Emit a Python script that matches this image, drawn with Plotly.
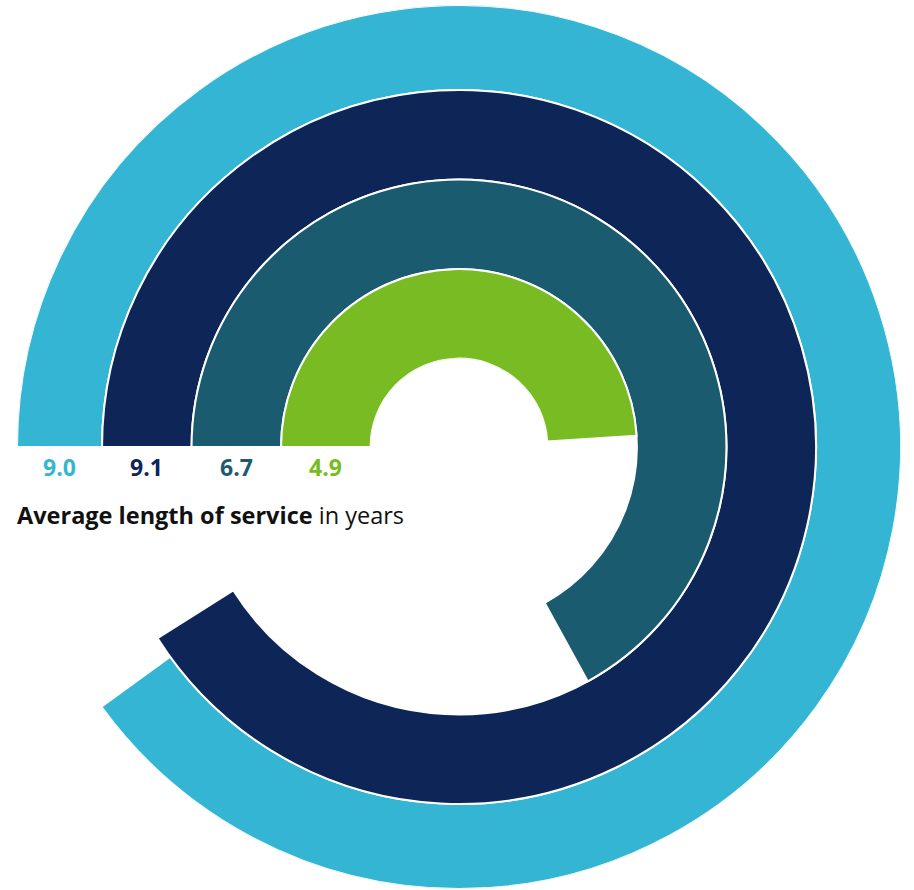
import plotly.graph_objects as go

# Data
categories = ["Group A", "Group B", "Group C", "Group D"]  # outer -> inner
values = [9.0, 9.1, 6.7, 4.9]
colors = ["#35B5D4", "#0D2557", "#1B5B70", "#78BB22"]
scale_max = 10.0  # full circle = 10 years
title_bold = "Average length of service"
title_rest = " in years"

W, H = 914, 890
cx, cy = 459, 447          # centre in px (from top)
R = 442                    # outer radius in px
hole = 0.2
rad_max = 3.95
ring_widths = [0.95, 1, 1, 1]   # outer -> inner
ring_bases = [3, 2, 1, 0]

deg = [v / scale_max * 360 for v in values]

fig = go.Figure()
fig.add_trace(go.Barpolar(
    r=ring_widths,
    base=ring_bases,
    theta=[d / 2 for d in deg],
    width=deg,
    marker=dict(color=colors, line=dict(color="white", width=2)),
    hoverinfo="skip",
))

unit = (R - R * hole) / rad_max
annotations = []
for v, c, b, w in zip(values, colors, ring_bases, ring_widths):
    mid = R * hole + unit * (b + w / 2)
    annotations.append(dict(
        x=(cx - mid) / W, y=1 - 467 / H, xref="paper", yref="paper",
        text=f"<b>{v:.1f}</b>", showarrow=False,
        font=dict(family="Open Sans", size=23, color=c),
        xanchor="center", yanchor="middle",
    ))
annotations.append(dict(
    x=15 / W, y=1 - 515 / H, xref="paper", yref="paper",
    text=f"<b>{title_bold}</b>{title_rest}", showarrow=False,
    font=dict(family="Open Sans", size=23.5, color="#111111"),
    xanchor="left", yanchor="middle",
))

fig.update_layout(
    width=W, height=H,
    margin=dict(l=0, r=0, t=0, b=0),
    paper_bgcolor="white",
    showlegend=False,
    polar=dict(
        domain=dict(x=[(cx - R) / W, (cx + R) / W],
                    y=[(H - cy - R) / H, (H - cy + R) / H]),
        hole=hole,
        bgcolor="white",
        angularaxis=dict(direction="clockwise", rotation=180, visible=False,
                         showgrid=False, showline=False, ticks=""),
        radialaxis=dict(range=[0, rad_max], visible=False, showgrid=False,
                        showline=False, ticks=""),
    ),
    annotations=annotations,
)

fig.write_html("out.html")
